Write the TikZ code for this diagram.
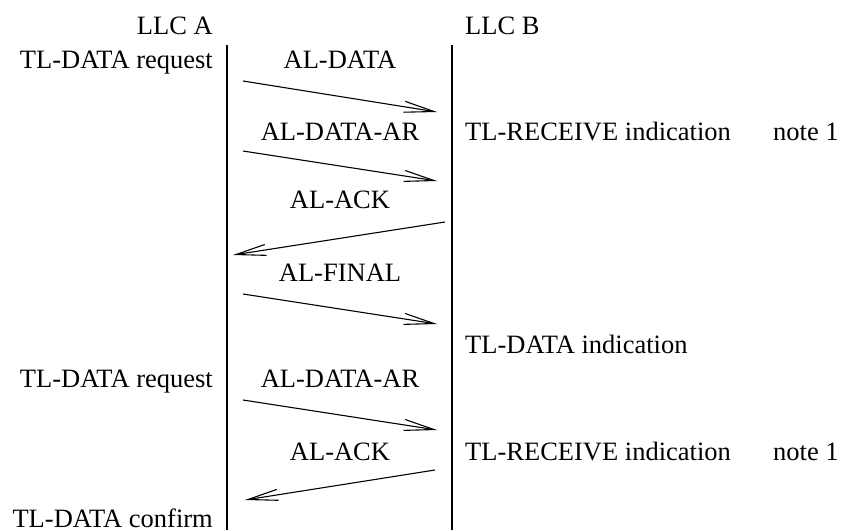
\documentclass[tikz,border=0pt]{standalone}
\usepackage{fontspec}
\setmainfont{Liberation Serif}
\usetikzlibrary{arrows.meta}
\begin{document}
\begin{tikzpicture}[x=1pt,y=-1pt,
  lbl/.style={inner sep=0pt,font=\fontsize{26.5}{30}\selectfont},
  life/.style={line width=2pt},
  msg/.style={line width=1.1pt,-{Straight Barb[length=30pt,width=11pt,line width=1.1pt]}}]
\useasboundingbox (0,0) rectangle (843,530);
% lifelines
\coordinate (atop) at (227,45); \coordinate (abot) at (227,530);
\coordinate (btop) at (452,45); \coordinate (bbot) at (452,530);
\draw[life] (atop) -- (abot);
\draw[life] (btop) -- (bbot);
% headers
\node[lbl,anchor=base east] (llca) at (213,34) {LLC A};
\node[lbl,anchor=base west] (llcb) at (465,34) {LLC B};
% left side
\node[lbl,anchor=base east] (req1) at (213,68) {TL-DATA request};
\node[lbl,anchor=base east] (req2) at (213,387) {TL-DATA request};
\node[lbl,anchor=base east] (conf) at (213,527) {TL-DATA confirm};
% message labels
\node[lbl,anchor=base] (m1) at (340,68) {AL-DATA};
\node[lbl,anchor=base] (m2) at (340,140) {AL-DATA-AR};
\node[lbl,anchor=base] (m3) at (340,208) {AL-ACK};
\node[lbl,anchor=base] (m4) at (340,281) {AL-FINAL};
\node[lbl,anchor=base] (m5) at (340,387) {AL-DATA-AR};
\node[lbl,anchor=base] (m6) at (340,460) {AL-ACK};
% right side
\node[lbl,anchor=base west] (rcv1) at (465,140) {TL-RECEIVE indication};
\node[lbl,anchor=base west] (n1) at (773,140) {note 1};
\node[lbl,anchor=base west] (ind) at (465,353) {TL-DATA indication};
\node[lbl,anchor=base west] (rcv2) at (465,460) {TL-RECEIVE indication};
\node[lbl,anchor=base west] (n2) at (773,460) {note 1};
% arrow endpoints
\coordinate (a1s) at (243,81);  \coordinate (a1e) at (437,112);
\coordinate (a2s) at (243,151); \coordinate (a2e) at (437,181);
\coordinate (a3s) at (445,222); \coordinate (a3e) at (233,255);
\coordinate (a4s) at (243,294); \coordinate (a4e) at (437,324);
\coordinate (a5s) at (243,400); \coordinate (a5e) at (437,430);
\coordinate (a6s) at (435,470); \coordinate (a6e) at (245,500);
\draw[msg] (a1s) -- (a1e);
\draw[msg] (a2s) -- (a2e);
\draw[msg] (a3s) -- (a3e);
\draw[msg] (a4s) -- (a4e);
\draw[msg] (a5s) -- (a5e);
\draw[msg] (a6s) -- (a6e);
\end{tikzpicture}
\end{document}
